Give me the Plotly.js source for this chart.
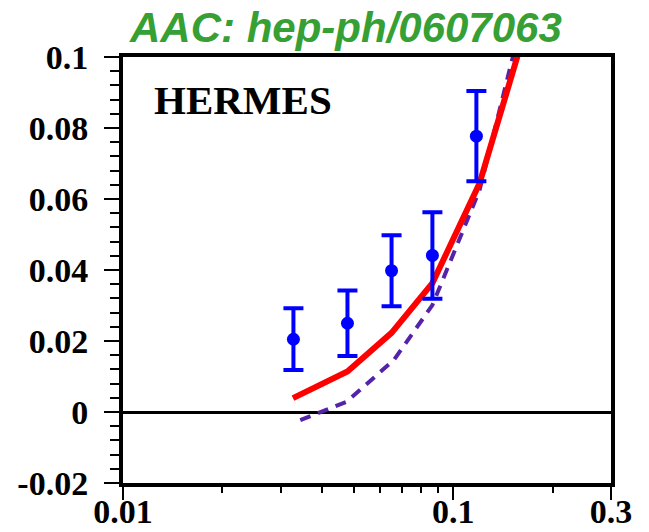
<!DOCTYPE html>
<html>
<head>
<meta charset="utf-8">
<script src="https://cdn.plot.ly/plotly-3.0.1.min.js"></script>
<style>html,body{margin:0;padding:0;background:#fff}#chart{width:649px;height:532px}</style>
</head>
<body>
<div id="chart"></div>
<script>
// HERMES data points
const dataX = [0.0328, 0.0478, 0.065, 0.0864, 0.1174];
const dataY = [0.0205, 0.025, 0.0398, 0.0441, 0.0777];
const dataErr = [0.0087, 0.0092, 0.010, 0.0122, 0.0127];

// AAC fit (solid red)
const fitX = [0.0327, 0.0478, 0.065, 0.0864, 0.12, 0.16];
const fitY = [0.0039, 0.0114, 0.0223, 0.0363, 0.0644, 0.1034];

// alternative fit (dashed purple)
const altX = [0.0344, 0.0475, 0.066, 0.0864, 0.12, 0.16];
const altY = [-0.0023, 0.0029, 0.0146, 0.0301, 0.0625, 0.109];

const xTickVals = [0.01, 0.1, 0.3];
const xTickText = ['0.01', '0.1', '0.3'];
const xMinorVals = [0.02, 0.03, 0.04, 0.05, 0.06, 0.07, 0.08, 0.09, 0.2];
const yTickVals = [-0.02, 0, 0.02, 0.04, 0.06, 0.08, 0.1];
const yTickText = ['-0.02', '0', '0.02', '0.04', '0.06', '0.08', '0.1'];

const traces = [
  {x: altX, y: altY, mode: 'lines', line: {color: 'rgb(85,34,170)', width: 4, dash: '11px,8px'}, cliponaxis: true},
  {x: fitX, y: fitY, mode: 'lines', line: {color: '#ff0000', width: 6}, cliponaxis: true},
  {x: dataX, y: dataY, mode: 'markers', marker: {color: '#0000ff', size: 13},
   error_y: {type: 'data', array: dataErr, visible: true, color: '#0000ff', thickness: 4, width: 10}}
];

const yTickFont = {family: 'Liberation Serif, Times New Roman, serif', size: 34, color: '#000', weight: 'bold'};
const xTickFont = {family: 'Liberation Serif, Times New Roman, serif', size: 34, color: '#000', weight: 'bold'};

const layout = {
  width: 649, height: 532,
  margin: {l: 123, r: 38, t: 57, b: 49},
  paper_bgcolor: '#fff', plot_bgcolor: '#fff',
  showlegend: false,
  title: {text: '<b><i>AAC: hep-ph/0607063</i></b>', font: {family: 'Liberation Sans, Arial, sans-serif', size: 42, color: '#36a035'},
          x: 0.533, xref: 'container', xanchor: 'center', y: 0.949, yref: 'container', yanchor: 'middle'},
  xaxis: {
    type: 'log', range: [Math.log10(0.01), Math.log10(0.3)],
    tickmode: 'array', tickvals: xTickVals, ticktext: xTickText,
    ticks: 'outside', ticklen: 13, tickwidth: 2, tickcolor: '#000',
    minor: {tickmode: 'array', tickvals: xMinorVals, ticks: 'outside', ticklen: 6, tickwidth: 2, tickcolor: '#000', showgrid: false},
    showline: true, linecolor: '#000', linewidth: 4, mirror: true,
    showgrid: false, zeroline: false,
    tickfont: xTickFont, ticklabelstandoff: -18
  },
  yaxis: {
    range: [-0.02, 0.1],
    tickmode: 'array', tickvals: yTickVals, ticktext: yTickText,
    ticks: 'outside', ticklen: 15, tickwidth: 2, tickcolor: '#000',
    minor: {dtick: 0.004, tick0: 0, ticks: 'outside', ticklen: 9, tickwidth: 2, tickcolor: '#000', showgrid: false},
    showline: true, linecolor: '#000', linewidth: 4, mirror: true,
    showgrid: false, zeroline: true, zerolinecolor: '#000', zerolinewidth: 3,
    tickfont: yTickFont, ticklabelstandoff: 9
  },
  annotations: [
    {text: '<b>HERMES</b>', xref: 'paper', yref: 'paper', x: 0.059, y: 0.899, xanchor: 'left', yanchor: 'middle',
     showarrow: false, font: {family: 'Liberation Serif, Times New Roman, serif', size: 41, color: '#000'}}
  ]
};

Plotly.newPlot('chart', traces, layout, {displayModeBar: false, staticPlot: true});
</script>
</body>
</html>
